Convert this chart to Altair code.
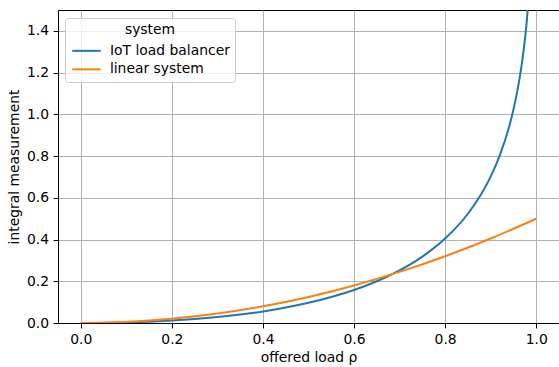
import altair as alt
import pandas as pd

# Values
rho_iot = [0.0, 0.05, 0.10, 0.15, 0.20, 0.25, 0.30, 0.35, 0.40, 0.45, 0.50, 0.55,
           0.60, 0.65, 0.70, 0.75, 0.80, 0.85, 0.88, 0.90, 0.92, 0.94, 0.95,
           0.96, 0.97, 0.98, 0.99]
iot = [0.0, 0.0006, 0.0027, 0.0063, 0.0116, 0.0188, 0.0283, 0.0404, 0.0554,
       0.0739, 0.0966, 0.1243, 0.1581, 0.1999, 0.2520, 0.3181, 0.4047, 0.5236,
       0.6201, 0.7013, 0.8029, 0.9367, 1.0229, 1.1294, 1.2683, 1.4660, 1.8076]

rho_lin = [0.0, 0.1, 0.2, 0.3, 0.4, 0.5, 0.6, 0.7, 0.8, 0.9, 1.0]
lin = [0.0, 0.005, 0.02, 0.045, 0.08, 0.125, 0.18, 0.245, 0.32, 0.405, 0.5]

series = ["IoT load balancer", "linear system"]
colors = ["#1f77b4", "#ff7f0e"]

df = pd.concat([
    pd.DataFrame({"rho": rho_iot, "value": iot, "system": series[0]}),
    pd.DataFrame({"rho": rho_lin, "value": lin, "system": series[1]}),
])

FONT = "DejaVu Sans"
FS = 13.9

chart = alt.Chart(df).mark_line(strokeWidth=2, clip=True, interpolate="monotone").encode(
    x=alt.X("rho:Q",
            scale=alt.Scale(domain=[-0.05, 1.05], nice=False, zero=False),
            axis=alt.Axis(title="offered load ρ", values=[0, 0.2, 0.4, 0.6, 0.8, 1.0],
                          format=".1f", titlePadding=4)),
    y=alt.Y("value:Q",
            scale=alt.Scale(domain=[0, 1.5], nice=False),
            axis=alt.Axis(title="integral measurement",
                          values=[0, 0.2, 0.4, 0.6, 0.8, 1.0, 1.2, 1.4],
                          format=".1f", titlePadding=5)),
    color=alt.Color("system:N",
                    scale=alt.Scale(domain=series, range=colors),
                    legend=alt.Legend(
                        title="system", orient="none", legendX=7, legendY=8,
                        symbolType="M-1,0H5", symbolSize=90, symbolStrokeWidth=2,
                        labelOffset=26, rowPadding=3.5, titlePadding=7,
                        titleAnchor="middle", titleAlign="center",
                        titleFontWeight="normal", titleFontSize=FS, labelFontSize=FS,
                        titleFont=FONT, labelFont=FONT, titleColor="black", labelColor="black",
                        padding=5, strokeColor="#cccccc", fillColor="rgba(255,255,255,0.8)",
                        cornerRadius=3,
                    )),
    order=alt.Order("rho:Q"),
).properties(
    width=501, height=313,
    padding={"left": 58, "top": 10, "right": 0, "bottom": 44},
    autosize=alt.AutoSizeParams(type="none"),
).configure(
    background="white",
).configure_view(
    stroke="black", strokeWidth=1,
).configure_axis(
    grid=True, gridColor="#b0b0b0", gridWidth=1,
    domainColor="black", domainWidth=1,
    tickColor="black", tickWidth=1, tickSize=4.9,
    labelFont=FONT, labelFontSize=FS, labelColor="black", labelPadding=4.5,
    titleFont=FONT, titleFontSize=FS, titleFontWeight="normal", titleColor="black",
)

chart.save("out.html", embed_options={"renderer": "svg", "actions": False})
